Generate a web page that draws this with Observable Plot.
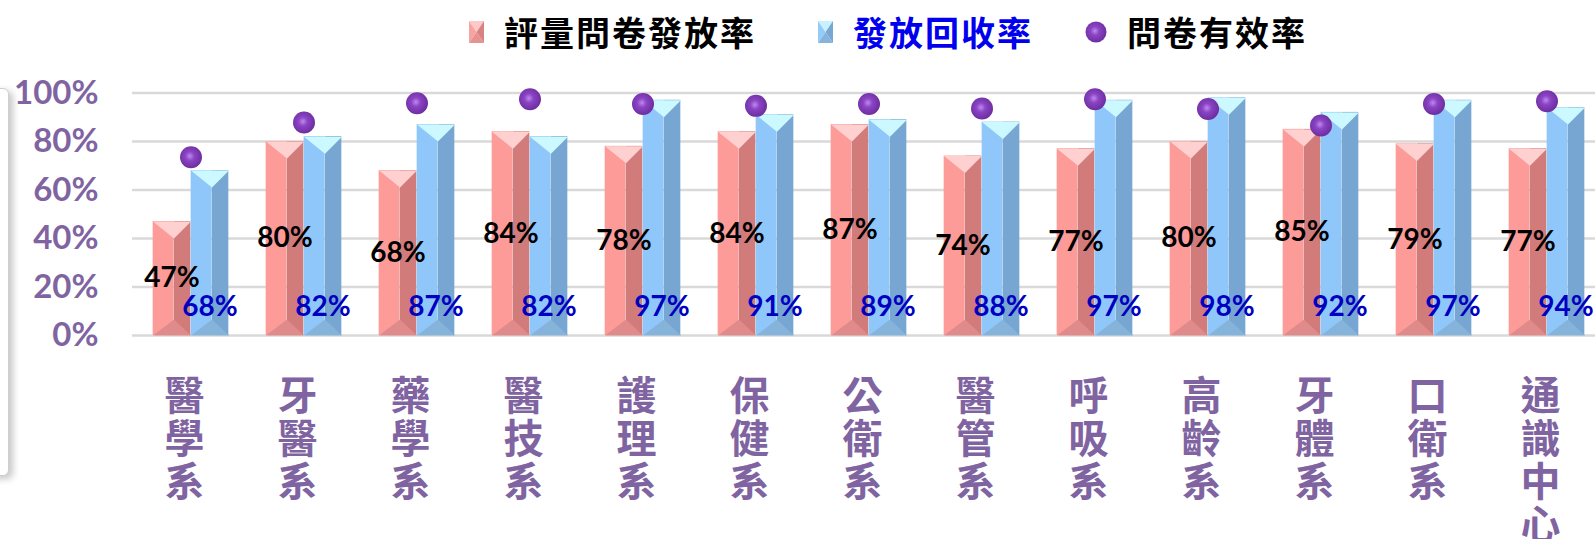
<!DOCTYPE html>
<html><head><meta charset="utf-8">
<script src="https://cdn.jsdelivr.net/npm/d3@7"></script>
<script src="https://cdn.jsdelivr.net/npm/@observablehq/plot@0.6"></script>
<style>
body{margin:0;background:#fff;width:1595px;height:539px;overflow:hidden;position:relative;font-family:"Noto Sans CJK TC",sans-serif}
#legend{position:absolute;left:0;top:0;width:1595px;height:60px}
.item{position:absolute;top:10px;height:44px;display:flex;align-items:center;font-size:34px;font-weight:bold;letter-spacing:2px;white-space:nowrap;line-height:1}
.item svg{margin-right:20px}
#frame{position:absolute;left:-100px;top:88px;width:107px;height:386px;border:1px solid #cfcfcf;border-radius:6px;box-shadow:4px 3px 7px rgba(0,0,0,0.22);background:#fff}
#chart{position:absolute;left:0;top:60px}
</style>
</head><body>
<svg width="0" height="0" style="position:absolute">
  <defs>
    <radialGradient id="ball" cx="45%" cy="45%" r="60%">
      <stop offset="0%" stop-color="#c088ef"/>
      <stop offset="35%" stop-color="#8a44c4"/>
      <stop offset="100%" stop-color="#6a2a9a"/>
    </radialGradient>
  </defs>
</svg>
<div id="frame"></div>
<div id="legend"></div>
<div id="chart"></div>
<script>
// ---- data ----
const categories = ["醫學系","牙醫系","藥學系","醫技系","護理系","保健系","公衛系","醫管系","呼吸系","高齡系","牙體系","口衛系","通識中心"];
const distributionRate = [47,80,68,84,78,84,87,74,77,80,85,79,77];   // 評量問卷發放率
const returnRate = [68,82,87,82,97,91,89,88,97,98,92,97,94];          // 發放回收率
const validRate = [73.5,87.8,95.8,97.4,95.5,94.7,95.5,93.6,97.4,93.4,86.6,95.5,96.6]; // 問卷有效率
const yTicks = [0,20,40,60,80,100];
const seriesNames = ["評量問卷發放率","發放回收率","問卷有效率"];

// ---- legend ----
const legendColors = [
  {top:"#ffc9c9", left:"#f7a3a1", right:"#d88282", bottom:"#e49292", text:"#000"},
  {top:"#c6f3ff", left:"#94cbf8", right:"#78a8d2", bottom:"#86b4dc", text:"#0000ee"},
];
const legendLeft = [469, 818, 1085];
const legend = document.getElementById("legend");
seriesNames.forEach((name, i) => {
  const d = document.createElement("div");
  d.className = "item";
  d.style.left = legendLeft[i] + "px";
  let icon;
  if (i < 2) {
    const c = legendColors[i];
    icon = `<svg width="15" height="22" viewBox="0 0 15 22"><polygon points="0,0 15,0 7.5,11" fill="${c.top}"/><polygon points="0,0 7.5,11 0,22" fill="${c.left}"/><polygon points="15,0 7.5,11 15,22" fill="${c.right}"/><polygon points="0,22 7.5,11 15,22" fill="${c.bottom}"/></svg>`;
  } else {
    icon = `<svg width="22" height="22" viewBox="0 0 22 22"><circle cx="11" cy="11" r="10.5" fill="url(#ball)"/></svg>`;
  }
  d.innerHTML = icon + `<span style="color:${i===1?"#0000ee":"#000"}">${name}</span>`;
  legend.appendChild(d);
});

// ---- chart ----
const rows = categories.map((c, i) => ({cat: c, a: distributionRate[i], b: returnRate[i], v: validRate[i]}));
const xRange = [131.8, 1605];
const bw = (xRange[1] - xRange[0]) / categories.length;

function face(key, left, w, fill) {
  return Plot.barY(rows, {x: "cat", y1: () => 0, y2: key, insetLeft: bw / 2 + left, insetRight: bw / 2 - left - w, fill});
}
const capTop = (L, R, D) => ({draw(ctx) { ctx.moveTo(-L, 0); ctx.lineTo(R, 0); ctx.lineTo(0, D); ctx.closePath(); }});
const capBottom = (L, R, D) => ({draw(ctx) { ctx.moveTo(-L, 0); ctx.lineTo(R, 0); ctx.lineTo(0, -D); ctx.closePath(); }});

const numFont = "Lato, 'DejaVu Sans', sans-serif";
const chart = Plot.plot({
  width: 1595, height: 479,
  marginLeft: 132, marginRight: 0, marginTop: 0, marginBottom: 0,
  x: {type: "band", domain: categories, range: xRange, padding: 0, axis: null},
  y: {domain: [0, 100], range: [275, 32.5], axis: null},
  style: {background: "transparent", overflow: "visible"},
  marks: [
    Plot.gridY(yTicks, {stroke: "#d9d9d9", strokeOpacity: 1, strokeWidth: 2.5}),
    Plot.axisY(yTicks, {anchor: "left", tickSize: 0, tickPadding: 34, tickFormat: d => d + "%", fontSize: 33, fontWeight: "bold", fill: "#8064a2", fontFamily: numFont, label: null}),
    // pink bars (評量問卷發放率)
    face("a", -38, 21, "#fc9b98"),
    face("a", -17, 17, "#d27b7b"),
    Plot.dot(rows, {x: "cat", y: "a", dx: -17, r: 5, symbol: capTop(21, 17, 17), fill: "#ffd0d0"}),
    Plot.dot(rows, {x: "cat", y: () => 0, dx: -17, r: 5, symbol: capBottom(21, 17, 16), fill: "#e08b8b"}),
    // blue bars (發放回收率)
    face("b", 0, 21, "#8fc7fa"),
    face("b", 21, 17, "#76a6d1"),
    Plot.dot(rows, {x: "cat", y: "b", dx: 21, r: 5, symbol: capTop(21, 17, 17), fill: "#ccf9ff"}),
    Plot.dot(rows, {x: "cat", y: () => 0, dx: 21, r: 5, symbol: capBottom(21, 17, 16), fill: "#86b3da"}),
    // labels
    Plot.text(rows, {x: "cat", y: d => d.a / 2, dx: -19, text: d => d.a + "%", fontSize: 28, fontWeight: "bold", fontFamily: numFont, fill: "#000"}),
    Plot.text(rows, {x: "cat", y: () => 0, dx: 19, dy: -28, text: d => d.b + "%", fontSize: 28, fontWeight: "bold", fontFamily: numFont, fill: "#0000c0"}),
    // 問卷有效率 dots
    Plot.dot(rows, {x: "cat", y: "v", r: 11, fill: "url(#ball)"}),
    // x labels (vertical)
    Plot.text(rows, {x: "cat", y: () => 0, dx: -6.5, dy: 44, text: d => Array.from(d.cat).join("\n"), lineAnchor: "top", lineHeight: 1.075, fontSize: 40, fontWeight: "bold", fill: "#8064a2", fontFamily: "'Noto Sans CJK TC', sans-serif"})
  ]
});
document.getElementById("chart").appendChild(chart);
</script>
</body></html>
